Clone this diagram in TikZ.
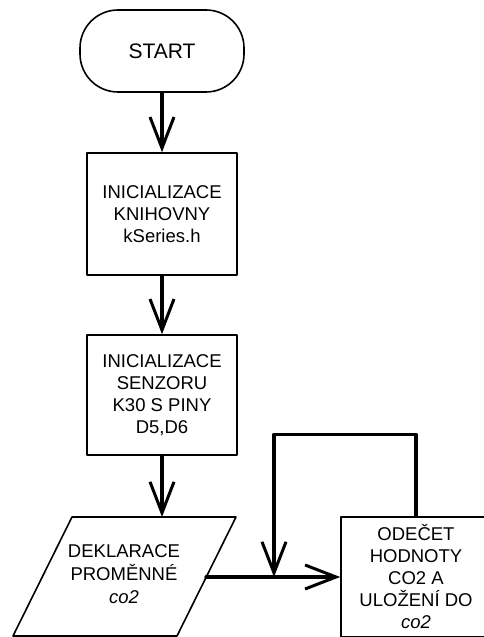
\documentclass[tikz,border=0pt]{standalone}
\usepackage{fontspec}
\setmainfont{Liberation Sans}
\usetikzlibrary{arrows.meta}

\begin{document}
\begin{tikzpicture}[line cap=round,line join=round,x=1pt,y=1pt,
  term/.style={draw,line width=1.6pt,rounded corners=38pt,minimum width=164pt,minimum height=82pt,
    font=\fontsize{21}{25}\selectfont},
  procbox/.style={draw,line width=1.6pt,minimum width=150pt,align=center,
    font=\fontsize{18.5}{22}\selectfont},
  flow/.style={line width=3.2pt,-{Straight Barb[length=31pt,width=24pt,line width=3pt]}},
  line/.style={line width=3.2pt}]

\def\cx{162} %column centre
\def\bw{150} %box width

\useasboundingbox (0,0) rectangle (483,637);

%start
\node[term] (start) at (\cx,586) {START};

%library
\node[procbox,minimum height=122pt] (lib) at (\cx,423) {INICIALIZACE\\KNIHOVNY\\kSeries.h};

%sensor
\node[procbox,minimum height=120pt] (sensor) at (\cx,242) {INICIALIZACE\\SENZORU\\K30 S PINY\\D5,D6};

%declaration
\coordinate (dtl) at (72,120);
\coordinate (dtr) at (236,120);
\coordinate (dbr) at (177,1);
\coordinate (dbl) at (13,1);
\draw[line width=1.6pt] (dtl) -- (dtr) -- (dbr) -- (dbl) -- cycle;
\node[align=center,font=\fontsize{18.5}{23}\selectfont] (decl) at (124,63) {DEKLARACE\\PROM\v{E}NN\'E\\\textit{co2}};
\coordinate (dtop) at (\cx,120);
\coordinate (dout) at (206,60);

%reading
\node[procbox,minimum height=120pt] (read) at (416,60) {ODE\v{C}ET\\HODNOTY\\CO2 A\\ULO\v{Z}EN\'I DO\\\textit{co2}};
\coordinate (join) at (274,60);

%arrows
\draw[flow] (start) -- (lib);
\draw[flow] (lib) -- (sensor);
\draw[flow] (sensor) -- (dtop);
\draw[flow] (dout) -- (read);
\draw[flow] (read.north) -- ++(0,82) -| (join);

\end{tikzpicture}
\end{document}
